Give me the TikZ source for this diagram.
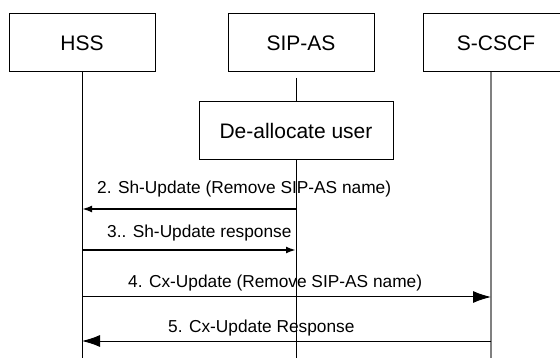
\documentclass[tikz,border=0pt]{standalone}
\usepackage{fontspec}
\setmainfont{Liberation Sans}
\usetikzlibrary{arrows.meta}

\tikzset{
	entity/.style={draw, line width=1pt, minimum width=146pt, minimum height=58pt, inner sep=0pt, font=\fontsize{21}{25}\selectfont},
	msglabel/.style={anchor=base west, inner sep=0pt, font=\fontsize{17.3}{20}\selectfont},
	shmsg/.style={line width=2pt, -{Latex[length=10pt, width=7pt]}},
	cxmsg/.style={line width=1pt, -{Latex[length=18pt, width=12pt]}},
}

\begin{document}
\begin{tikzpicture}[x=1pt, y=-1pt]

	\useasboundingbox (0, 0) rectangle (560, 358);

	\node[entity] (hss) at (82, 43) {HSS};
	\node[entity] (sipas) at (301, 43) {SIP-AS};
	\node[entity] (scscf) at (496, 43) {S-CSCF};
	\node[entity, minimum width=194pt] (dealloc) at (296, 131) {De-allocate user};

	% lifelines
	\coordinate (hssend) at (82, 358);
	\coordinate (sipastop) at (296, 78);
	\coordinate (sipasend) at (296, 358);
	\coordinate (scscftop) at (491, 72);
	\coordinate (scscfend) at (491, 358);

	\draw[line width=1pt] (hss.south) -- (hssend);
	\draw[line width=1pt] (sipastop) -- (dealloc.north);
	\draw[line width=1pt] (dealloc.south) -- (sipasend);
	\draw[line width=1.5pt, gray] (scscftop) -- (scscfend);

	% message ends
	\coordinate (h2) at (82, 209);
	\coordinate (s2) at (296, 209);
	\coordinate (h3) at (82, 250);
	\coordinate (s3) at (296, 250);
	\coordinate (h4) at (82, 297);
	\coordinate (c4) at (491, 297);
	\coordinate (h5) at (82, 341);
	\coordinate (c5) at (491, 341);

	\draw[shmsg] (s2) -- (h2);
	\node[msglabel] (l2) at (97, 194) {2. Sh-Update (Remove SIP-AS name)};

	\draw[shmsg] (h3) -- (s3);
	\node[msglabel] (l3) at (107, 238) {3.. Sh-Update response};

	\draw[cxmsg] (h4) -- (c4);
	\node[msglabel] (l4) at (128, 288) {4. Cx-Update (Remove SIP-AS name)};

	\draw[cxmsg] (c5) -- (h5);
	\node[msglabel] (l5) at (168, 332) {5. Cx-Update Response};

\end{tikzpicture}
\end{document}
